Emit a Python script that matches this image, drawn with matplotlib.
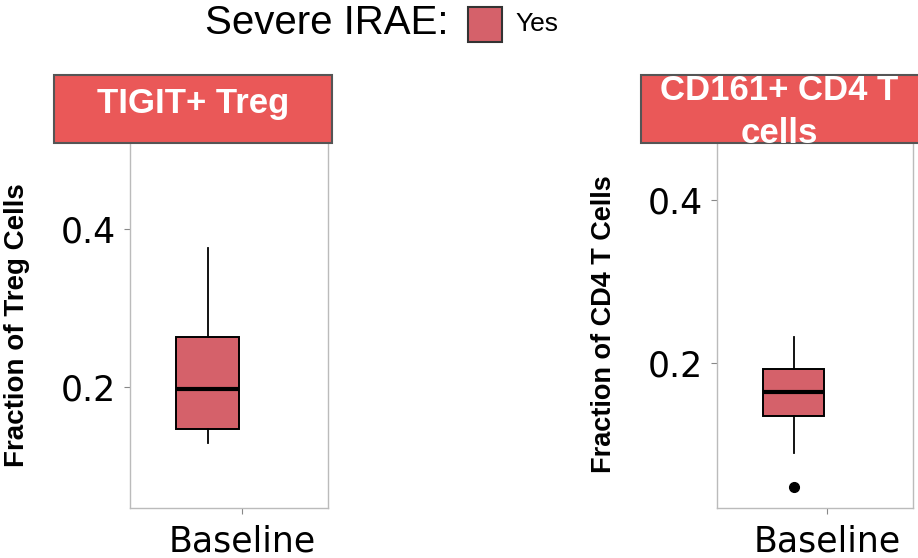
import matplotlib
matplotlib.use("Agg")
import matplotlib.pyplot as plt
from matplotlib.patches import Rectangle

# ---- data ----
panel_titles = ["TIGIT+ Treg", "CD161+ CD4 T\ncells"]
y_labels = ["Fraction of Treg Cells", "Fraction of CD4 T Cells"]
x_category = ["Baseline"]
legend_title = "Severe IRAE:"
legend_label = "Yes"
y_ticks = [[0.2, 0.4], [0.2, 0.4]]
y_limits = [(0.047, 0.509), (0.022, 0.470)]

tigit_stats = dict(whislo=0.129, q1=0.147, med=0.197, q3=0.263, whishi=0.376, fliers=[])
cd161_stats = dict(whislo=0.090, q1=0.135, med=0.164, q3=0.193, whishi=0.232, fliers=[0.048])
panel_stats = [tigit_stats, cd161_stats]

BOX_COLOR = "#D5616A"
HEAD_COLOR = "#EA5858"
W, H = 918, 558

fig = plt.figure(figsize=(W / 100, H / 100), dpi=100)
fig.patch.set_facecolor("white")

def px_axes(x0, y0, x1, y1):
    return fig.add_axes([x0 / W, 1 - y1 / H, (x1 - x0) / W, (y1 - y0) / H])

# panel geometry (pixels): axes, header box, x limits, title baselines
layouts = [
    dict(ax=(130, 143, 328, 508), head=(54, 75, 332, 143), xlim=(0.349, 1.50),
         ylab_x=17, ylab_y=325, ylab_fs=20, title_base=[113]),
    dict(ax=(717, 143, 913, 508), head=(641, 75, 920, 143), xlim=(0.343, 1.513),
         ylab_x=604, ylab_y=324, ylab_fs=19.5, title_base=[100, 143]),
]

for i, lay in enumerate(layouts):
    ax = px_axes(*lay["ax"])
    st = dict(panel_stats[i])
    st["label"] = ""
    ax.bxp([st], positions=[0.8], widths=[0.366], patch_artist=True,
           showcaps=False,
           boxprops=dict(facecolor=BOX_COLOR, edgecolor="black", linewidth=1.4),
           whiskerprops=dict(color="black", linewidth=1.3),
           medianprops=dict(color="black", linewidth=3.0),
           flierprops=dict(marker="o", markerfacecolor="black", markeredgecolor="black",
                           markersize=7))
    ax.set_xlim(*lay["xlim"])
    ax.set_ylim(*y_limits[i])
    ax.set_xticks([1.0])
    ax.set_xticklabels(x_category, fontsize=25, family="DejaVu Sans")
    ax.set_yticks(y_ticks[i])
    ax.set_yticklabels([f"{v:.1f}" for v in y_ticks[i]], fontsize=25, family="DejaVu Sans")
    ax.tick_params(axis="y", length=4, color="#888888", pad=6)
    ax.tick_params(axis="x", length=4, color="#888888", pad=8)
    for s in ax.spines.values():
        s.set_color("#BBBBBB")
        s.set_linewidth(1.0)
    ax.spines["top"].set_visible(False)
    ax.set_facecolor("white")

    # header strip
    hx0, hy0, hx1, hy1 = lay["head"]
    rect = Rectangle((hx0 / W, 1 - hy1 / H), (hx1 - hx0) / W, (hy1 - hy0) / H,
                     transform=fig.transFigure, facecolor=HEAD_COLOR,
                     edgecolor="#555555", linewidth=1.5, zorder=5)
    fig.add_artist(rect)
    cx = ((hx0 + min(hx1, 918)) / 2) / W
    for line, base in zip(panel_titles[i].split("\n"), lay["title_base"]):
        t = fig.text(cx, 1 - base / H, line, ha="center", va="baseline", color="white",
                     fontsize=25, fontweight="bold", family="Liberation Sans", zorder=6)
        t.set_clip_path(rect)

    fig.text(lay["ylab_x"] / W, 1 - lay["ylab_y"] / H, y_labels[i], rotation=90,
             ha="center", va="center", fontsize=lay["ylab_fs"], fontweight="bold",
             family="Liberation Sans")

# legend
fig.text(205 / W, 1 - 23 / H, legend_title, ha="left", va="center", fontsize=29,
         family="Liberation Sans")
fig.add_artist(Rectangle((468 / W, 1 - 42 / H), 34 / W, 35 / H, transform=fig.transFigure,
                         facecolor=BOX_COLOR, edgecolor="#333333", linewidth=1.5))
fig.text(515 / W, 1 - 24 / H, legend_label, ha="left", va="center", fontsize=19,
         family="Liberation Sans")

fig.savefig("out.png", dpi=100)
